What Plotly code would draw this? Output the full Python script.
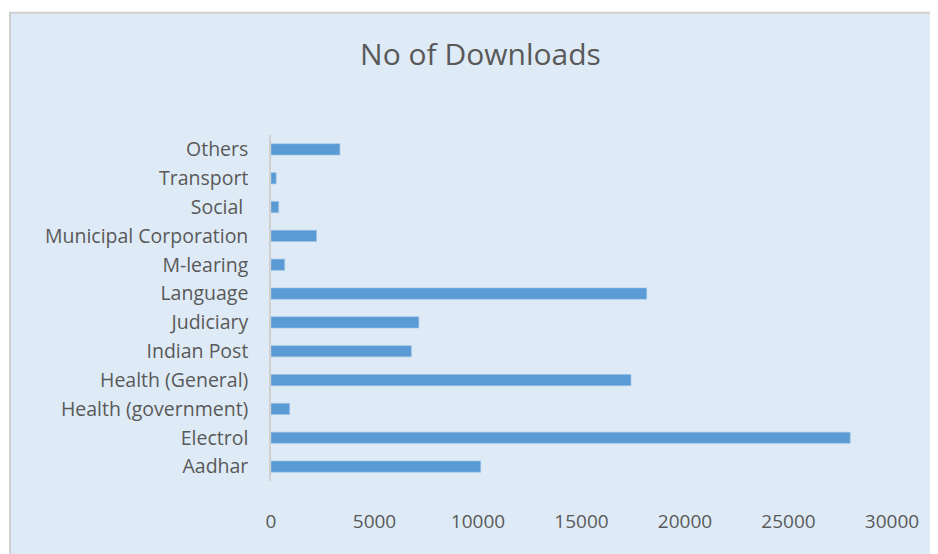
import plotly.graph_objects as go

categories = ["Aadhar", "Electrol", "Health (government)", "Health (General)", "Indian Post",
              "Judiciary", "Language", "M-learing", "Municipal Corporation", "Social ",
              "Transport", "Others"]
downloads = [10130, 27980, 900, 17390, 6780, 7140, 18150, 660, 2200, 370, 250, 3330]
x_ticks = [0, 5000, 10000, 15000, 20000, 25000, 30000]

W, H = 938, 554
OFF = 8  # page body margin offset
L, R, T, B = 271 - OFF, 938 - (892 - OFF), 134.5 - OFF, 554 - (481.5 - OFF)
pw, ph = W - L - R, H - T - B

def px_x(p):
    return (p - OFF - L) / pw

def px_y(p):
    return (H - B - (p - OFF)) / ph

fig = go.Figure(go.Bar(
    x=downloads, y=categories, orientation="h",
    marker=dict(color="#5B9BD5", line=dict(color="#9DC3E6", width=0.6)),
    width=0.39,
))

fig.add_shape(type="rect", xref="paper", yref="paper",
              x0=px_x(10), x1=px_x(960), y0=px_y(580), y1=px_y(12),
              fillcolor="#DEEBF7", line=dict(color="#D0D0D0", width=2), layer="below")

fig.update_layout(
    width=W, height=H,
    margin=dict(l=L, r=R, t=T, b=B),
    paper_bgcolor="white", plot_bgcolor="rgba(0,0,0,0)",
    showlegend=False,
    font=dict(family="Open Sans, sans-serif", color="#595959", size=19),
    title=dict(text="No of Downloads", x=(480.5 - OFF) / W, xanchor="center",
               y=1 - (54 - OFF) / H, yanchor="middle", xref="container", yref="container",
               font=dict(family="Open Sans, sans-serif", size=30, color="#595959")),
    xaxis=dict(range=[0, 30000], tickvals=x_ticks, ticktext=[str(v) for v in x_ticks],
               showgrid=False, zeroline=False, showline=False,
               ticklabelstandoff=27, tickfont=dict(size=19)),
    yaxis=dict(categoryorder="array", categoryarray=categories, showgrid=False,
               showline=True, linecolor="#D0D0D0", linewidth=1.5,
               ticklabelstandoff=17, tickfont=dict(size=19.5)),
)

fig.write_html("out.html")
